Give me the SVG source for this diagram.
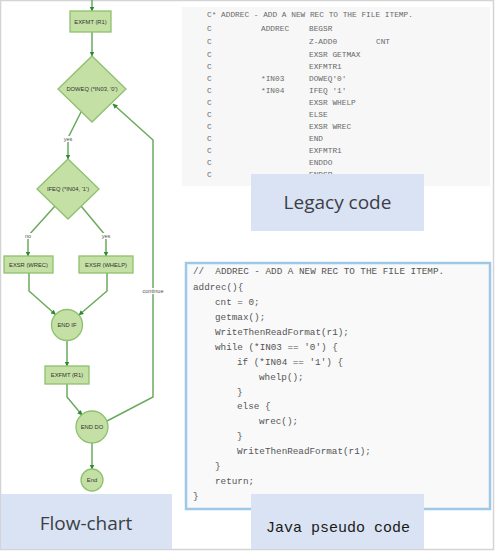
<svg xmlns="http://www.w3.org/2000/svg" width="495" height="551" viewBox="0 0 495 551">
<defs>
<style>
.node{fill:#c5e0a4;stroke:#8fc070;stroke-width:1.3}
.nl{font-family:"Liberation Sans",Arial,sans-serif;font-size:5.8px;fill:#333;text-anchor:middle}
.edge{fill:none;stroke:#6aaa5c;stroke-width:1.5}
.el{font-family:"Liberation Sans",Arial,sans-serif;font-size:5.6px;fill:#555;text-anchor:middle}
.lbg{fill:#fff}
.rpg{font-family:"Liberation Mono",monospace;font-size:7.8px;fill:#6a6a6a}
.java{font-family:"Liberation Mono",monospace;font-size:9.3px;fill:#555}
.cap{fill:#dae3f3}
.capt{font-family:"Open Sans","Liberation Sans",Arial,sans-serif;font-size:19px;fill:#3a3f47;text-anchor:middle}
</style>
<marker id="arr" markerWidth="5" markerHeight="5" refX="4.5" refY="2.5" orient="auto" markerUnits="userSpaceOnUse">
<path d="M0,0 L5,2.5 L0,5 Z" fill="#2f8a36"/>
</marker>
</defs>
<rect x="0" y="0" width="495" height="551" fill="#fff"/>
<rect x="0.5" y="0.5" width="493" height="549" fill="none" stroke="#d4d4d4" stroke-width="1.5"/>

<!-- Legacy code panel -->
<g id="legacy">
<rect x="182" y="7" width="308" height="179" fill="#f7f7f7"/>
<g class="rpg">
<text x="207" y="17">C* ADDREC - ADD A NEW REC TO THE FILE ITEMP.</text>
<text y="31"><tspan x="207">C</tspan><tspan x="261">ADDREC</tspan><tspan x="309">BEGSR</tspan></text>
<text y="44"><tspan x="207">C</tspan><tspan x="309">Z-ADD0</tspan><tspan x="376">CNT</tspan></text>
<text y="57"><tspan x="207">C</tspan><tspan x="309">EXSR GETMAX</tspan></text>
<text y="69"><tspan x="207">C</tspan><tspan x="309">EXFMTR1</tspan></text>
<text y="81"><tspan x="207">C</tspan><tspan x="261">*IN03</tspan><tspan x="309">DOWEQ'0'</tspan></text>
<text y="93"><tspan x="207">C</tspan><tspan x="261">*IN04</tspan><tspan x="309">IFEQ '1'</tspan></text>
<text y="105"><tspan x="207">C</tspan><tspan x="309">EXSR WHELP</tspan></text>
<text y="117"><tspan x="207">C</tspan><tspan x="309">ELSE</tspan></text>
<text y="129"><tspan x="207">C</tspan><tspan x="309">EXSR WREC</tspan></text>
<text y="141"><tspan x="207">C</tspan><tspan x="309">END</tspan></text>
<text y="153"><tspan x="207">C</tspan><tspan x="309">EXFMTR1</tspan></text>
<text y="165"><tspan x="207">C</tspan><tspan x="309">ENDDO</tspan></text>
<text y="177"><tspan x="207">C</tspan><tspan x="309">ENDSR</tspan></text>
</g>
</g>
<g id="legacy-caption">
<rect class="cap" x="251" y="174" width="173" height="57"/>
<text class="capt" x="337.5" y="209">Legacy code</text>
</g>

<!-- Java panel -->
<g id="java">
<rect x="186" y="263" width="304" height="246" fill="#f9f9f9" stroke="#9dc8e8" stroke-width="2.5"/>
<g class="java">
<text x="193" y="274" xml:space="preserve">//  ADDREC - ADD A NEW REC TO THE FILE ITEMP.</text>
<text x="193" y="290">addrec(){</text>
<text x="215" y="305">cnt = 0;</text>
<text x="215" y="320">getmax();</text>
<text x="215" y="335">WriteThenReadFormat(r1);</text>
<text x="215" y="350">while (*IN03 == '0') {</text>
<text x="237" y="365">if (*IN04 == '1') {</text>
<text x="259" y="380">whelp();</text>
<text x="237" y="395">}</text>
<text x="237" y="409">else {</text>
<text x="259" y="424">wrec();</text>
<text x="237" y="439">}</text>
<text x="237" y="454">WriteThenReadFormat(r1);</text>
<text x="215" y="469">}</text>
<text x="215" y="484">return;</text>
<text x="193" y="499">}</text>
</g>
</g>
<g id="java-caption">
<rect class="cap" x="251" y="494" width="173" height="55"/>
<text x="338" y="532" font-family="Liberation Mono,monospace" font-size="15" fill="#1a1a1a" text-anchor="middle">Java pseudo code</text>
</g>

<g id="flow-caption">
<rect class="cap" x="1" y="494" width="171" height="55"/>
<text class="capt" x="86" y="530">Flow-chart</text>
</g>

<!-- connectors -->
<g id="connectors">
<path class="edge" d="M92,0 L92,11" marker-end="url(#arr)"/>
<path class="edge" d="M92,32 L92,56" marker-end="url(#arr)"/>
<path class="edge" d="M81,112 L68,138 L68,159" marker-end="url(#arr)"/>
<path class="edge" d="M55,206 L28,236 L28,256" marker-end="url(#arr)"/>
<path class="edge" d="M81,206 L106,236 L106,256" marker-end="url(#arr)"/>
<path class="edge" d="M29,273 L29,291 L55.5,314.5" marker-end="url(#arr)"/>
<path class="edge" d="M107,273 L107,291 L79,315" marker-end="url(#arr)"/>
<path class="edge" d="M67,341 L67,366" marker-end="url(#arr)"/>
<path class="edge" d="M67,384 L67,397 L82,415" marker-end="url(#arr)"/>
<path class="edge" d="M92,443 L92,469" marker-end="url(#arr)"/>
<path class="edge" d="M107,421 L153,397 L153,140 L113,104" marker-end="url(#arr)"/>
<rect class="lbg" x="61" y="136" width="14" height="6"/>
<text class="el" x="68" y="141">yes</text>
<rect class="lbg" x="23" y="233" width="10" height="6"/>
<text class="el" x="28" y="238">no</text>
<rect class="lbg" x="99" y="233" width="14" height="6"/>
<text class="el" x="106" y="238">yes</text>
<rect class="lbg" x="141" y="288" width="24" height="6"/>
<text class="el" x="153" y="293">continue</text>
</g>

<!-- nodes -->
<g id="n-exfmt1"><rect class="node" x="70" y="11" width="41" height="21"/><text class="nl" x="90.5" y="23.5">EXFMT (R1)</text></g>
<g id="n-doweq"><polygon class="node" points="92,56 126,89 92,122 58,89"/><text class="nl" x="92" y="91">DOWEQ (*IN03, '0')</text></g>
<g id="n-ifeq"><polygon class="node" points="68,159 99,189 68,219 37,189"/><text class="nl" x="68" y="191">IFEQ (*IN04, '1')</text></g>
<g id="n-wrec"><rect class="node" x="4" y="256" width="49" height="17"/><text class="nl" x="28.5" y="266.5">EXSR (WREC)</text></g>
<g id="n-whelp"><rect class="node" x="79" y="256" width="54" height="17"/><text class="nl" x="106" y="266.5">EXSR (WHELP)</text></g>
<g id="n-endif"><circle class="node" cx="67" cy="325" r="15.5"/><text class="nl" x="67" y="327">END IF</text></g>
<g id="n-exfmt2"><rect class="node" x="45" y="366" width="44" height="18"/><text class="nl" x="67" y="377">EXFMT (R1)</text></g>
<g id="n-enddo"><circle class="node" cx="92" cy="427" r="16"/><text class="nl" x="92" y="429">END DO</text></g>
<g id="n-end"><circle class="node" cx="92" cy="480" r="11"/><text class="nl" x="92" y="482">End</text></g>
</svg>
